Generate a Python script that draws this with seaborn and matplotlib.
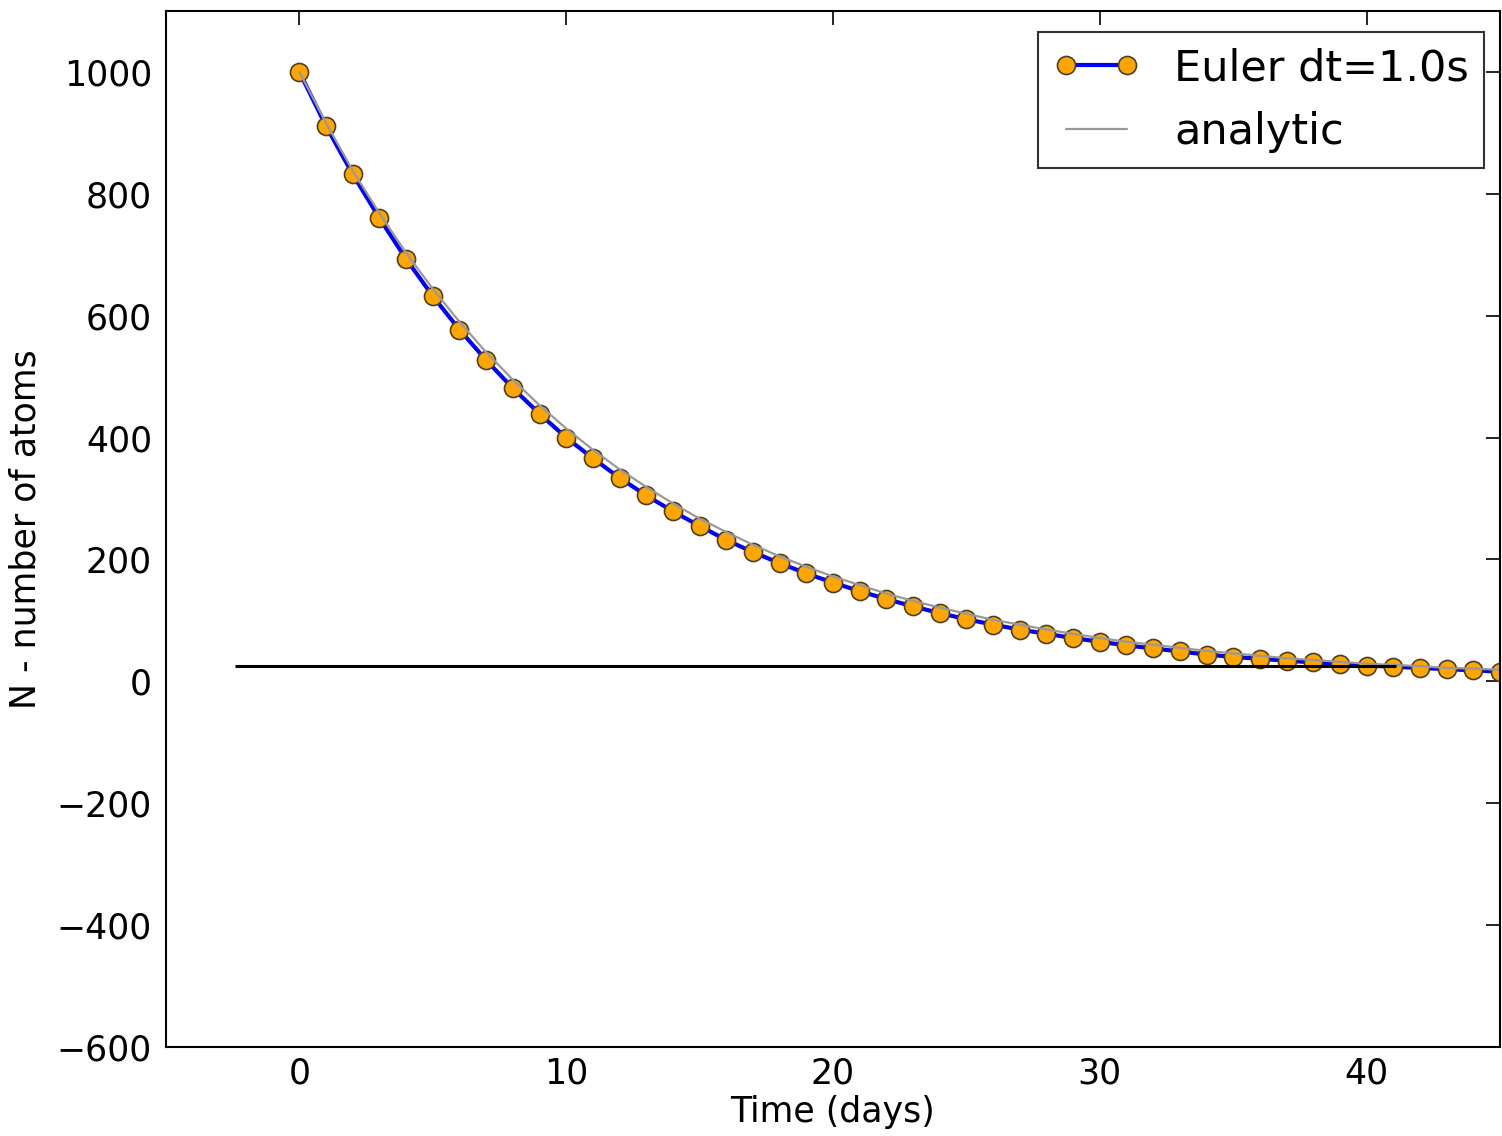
import pandas as pd
import matplotlib
matplotlib.use('Agg')
import matplotlib.pyplot as plt
import seaborn as sns

# Values
days = list(range(46))
euler_n = [1000, 911, 832, 760, 693, 632, 577, 527, 481, 439,
           400, 366, 334, 305, 279, 255, 232, 212, 194, 177,
           162, 148, 135, 123, 112, 102, 93, 85, 78, 71,
           65, 59, 54, 49, 44, 40, 37, 34, 31, 28,
           26, 24, 22, 20, 18, 16]
analytic_n = [1000, 916, 838, 768, 703, 644, 590, 540, 495, 453,
              415, 380, 348, 319, 292, 267, 245, 224, 205, 188,
              172, 158, 144, 132, 121, 111, 101, 93, 85, 78,
              71, 65, 60, 55, 50, 46, 42, 38, 35, 32,
              29, 27, 25, 22, 21, 19]
level_y = 25
level_x = [-2.4, 41.1]

df = pd.DataFrame({'t': days, 'euler': euler_n, 'analytic': analytic_n})

sns.set_style('white')
plt.rcParams['font.family'] = ['DejaVu Sans']
plt.rcParams['text.color'] = 'black'
plt.rcParams['axes.labelcolor'] = 'black'
plt.rcParams['xtick.color'] = 'black'
plt.rcParams['ytick.color'] = 'black'

fig = plt.figure(figsize=(15.02, 11.36), dpi=100)
ax = fig.add_axes([166 / 1502, 1 - 1047 / 1136, (1500 - 166) / 1502, (1047 - 11) / 1136])

sns.lineplot(data=df, x='t', y='euler', ax=ax, color='#0000ff', linewidth=3,
             marker='o', markersize=13, markerfacecolor='#ffa500',
             markeredgecolor='#4d4020', markeredgewidth=1.2,
             label='Euler dt=1.0s')
sns.lineplot(data=df, x='t', y='analytic', ax=ax, color='#999999', linewidth=1.6,
             label='analytic')
ax.hlines(level_y, level_x[0], level_x[1], color='black', linewidth=2.2)

ax.set_xlim(-5, 45)
ax.set_ylim(-600, 1100)
ax.set_xticks([0, 10, 20, 30, 40])
ax.set_yticks([-600, -400, -200, 0, 200, 400, 600, 800, 1000])
ax.set_yticklabels(['\u2212600', '\u2212400', '\u2212200', '0', '200', '400', '600', '800', '1000'])

ax.tick_params(direction='in', top=True, right=True, length=10, width=1.2,
               labelsize=25, color='black', labelcolor='black')
ax.tick_params(axis='x', pad=7)
ax.tick_params(axis='y', pad=10)
for s in ax.spines.values():
    s.set_color('black')
    s.set_linewidth(1.5)

ax.set_xlabel('Time (days)', fontsize=25, labelpad=3)
ax.set_ylabel('N - number of atoms', fontsize=25, labelpad=10)

leg = ax.legend(loc='upper right', fontsize=31, numpoints=2, fancybox=False,
                frameon=True, handlelength=2.0, handletextpad=0.8, borderpad=0.35,
                labelspacing=0.5, borderaxespad=0,
                bbox_to_anchor=(1 - 16 / 1334, 1 - 21 / 1036))
leg.get_frame().set_edgecolor('black')
leg.get_frame().set_linewidth(1.5)

fig.savefig('out.png', dpi=100)
